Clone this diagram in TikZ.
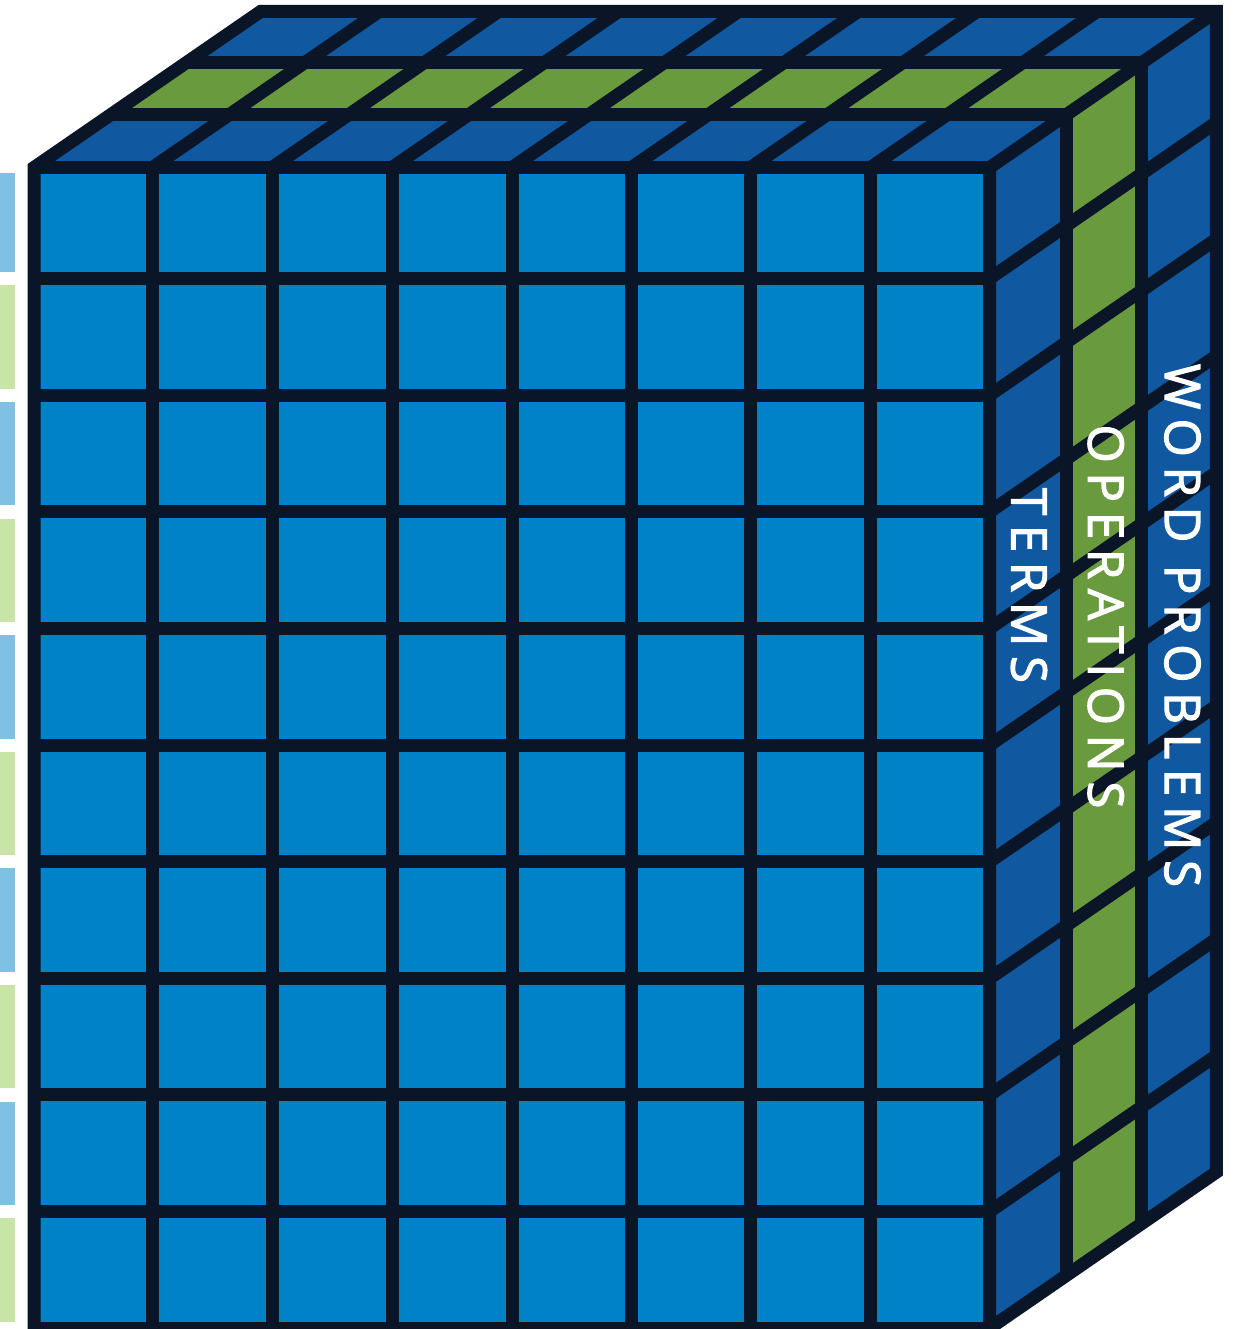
\documentclass[tikz,border=0pt]{standalone}
\usepackage{fontspec}
\setmainfont{Open Sans}
\definecolor{frontblue}{HTML}{0082C8}
\definecolor{sideblue}{HTML}{1058A0}
\definecolor{grn}{HTML}{6A9A3E}
\definecolor{navy}{HTML}{0A1628}
\definecolor{barblue}{HTML}{80C0E2}
\definecolor{bargreen}{HTML}{C8E4A6}
\begin{document}
\begin{tikzpicture}[x=1pt,y=-1pt,
  gridline/.style={draw=navy,line width=13pt,line cap=butt,line join=miter},
  label/.style={text=white,rotate=-90,inner sep=0pt,anchor=center,
    font=\addfontfeatures{LetterSpace=20,FakeBold=2.5}\fontsize{49}{49}\selectfont}]
\useasboundingbox (0,0) rectangle (1232,1329);
\clip (0,0) rectangle (1232,1329);
% left bars
\foreach \ya/\yb/\c in {173.5/271.7/barblue,285.1/388.5/bargreen,401.8/505.2/barblue,518.5/621.9/bargreen,635.1/738.5/barblue,751.8/855.2/bargreen,868.4/971.8/barblue,985/1088.4/bargreen,1101.6/1205/barblue,1218.2/1321.6/bargreen}
  \fill[\c] (0,\ya) rectangle (15,\yb);
% front cells
\foreach \xa/\xb in {34/152.5,152.5/272,272/392,392/512,512/631.5,631.5/750.5,750.5/870.5,870.5/989.7}
  \foreach \ya/\yb in {167.5/278.4,278.4/395.1,395.1/511.8,511.8/628.4,628.4/745.1,745.1/861.7,861.7/978.3,978.3/1094.9,1094.9/1211.5,1211.5/1328.2}
    \fill[frontblue] (\xa,\ya) rectangle (\xb,\yb);
% top face cells
\foreach \xa/\xb in {34/152.5,152.5/272,272/392,392/512,512/631.5,631.5/750.5,750.5/870.5,870.5/989.7}
  \foreach \dxa/\dya/\dxb/\dyb/\c in {0/0/76.5/-52.7/sideblue,76.5/-52.7/152/-104.7/grn,152/-104.7/226.6/-156/sideblue}
    \fill[\c] (\xa+\dxa,167.5+\dya) -- (\xb+\dxa,167.5+\dya) -- (\xb+\dxb,167.5+\dyb) -- (\xa+\dxb,167.5+\dyb) -- cycle;
% side face cells
\foreach \ya/\yb in {167.5/278.4,278.4/395.1,395.1/511.8,511.8/628.4,628.4/745.1,745.1/861.7,861.7/978.3,978.3/1094.9,1094.9/1211.5,1211.5/1328.2}
  \foreach \dxa/\dya/\dxb/\dyb/\c in {0/0/76.5/-52.7/sideblue,76.5/-52.7/152/-104.7/grn,152/-104.7/226.6/-156/sideblue}
    \fill[\c] (989.7+\dxa,\ya+\dya) -- (989.7+\dxb,\ya+\dyb) -- (989.7+\dxb,\yb+\dyb) -- (989.7+\dxa,\yb+\dya) -- cycle;
% front grid lines
\foreach \x in {152.5,272,392,512,631.5,750.5,870.5}
  \draw[gridline] (\x,167.5) -- (\x,1340);
\foreach \y in {278.4,395.1,511.8,628.4,745.1,861.7,978.3,1094.9,1211.5,1328.2}
  \draw[gridline] (34,\y) -- (989.7,\y);
% top face lines
\foreach \dx/\dy in {76.5/-52.7,152/-104.7}
  \draw[gridline] (34+\dx,167.5+\dy) -- (989.7+\dx,167.5+\dy);
\foreach \x in {152.5,272,392,512,631.5,750.5,870.5}
  \draw[gridline] (\x,167.5) -- (\x+226.6,11.5);
% side face lines
\foreach \dx/\dy in {76.5/-52.7,152/-104.7}
  \draw[gridline] (989.7+\dx,167.5+\dy) -- (989.7+\dx,1328.2+\dy);
\foreach \y in {278.4,395.1,511.8,628.4,745.1,861.7,978.3,1094.9,1211.5}
  \draw[gridline] (989.7,\y) -- (1216.3,\y-156);
% cube edges
\draw[gridline] (989.7,1340) -- (989.7,167.5) -- (1216.3,11.5);
\draw[gridline] (34,167.5) -- (989.7,167.5);
\draw[gridline] (34,1340) -- (34,167.5) -- (260.6,11.5) -- (1216.3,11.5) -- (1216.3,1172.2) -- (989.7,1328.2);
% labels
\node[label] (wp) at (1182.5,625.5) {WORD PROBLEMS};
\node[label] (op) at (1105.8,616.5) {OPERATIONS};
\node[label] (te) at (1029,585.5) {TERMS};
\end{tikzpicture}
\end{document}
